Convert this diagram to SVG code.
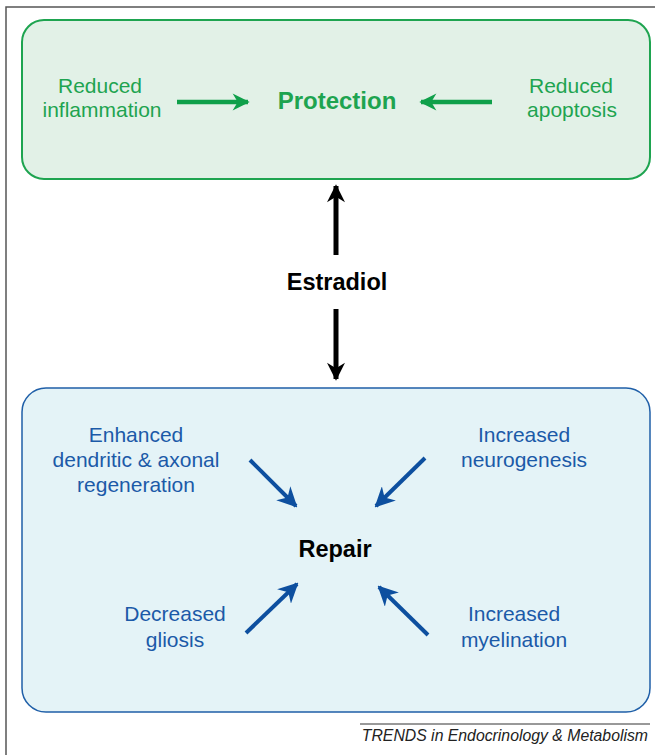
<svg xmlns="http://www.w3.org/2000/svg" width="655" height="755" viewBox="0 0 655 755">
<defs>
<style>
.t{font-family:"Liberation Sans",Arial,sans-serif;text-anchor:middle}
.g{fill:#1ea450;font-size:21px}
.b{fill:#1b5aa8;font-size:21px}
.gl{stroke:#0fa04a;stroke-width:4.5;fill:none}
.bl{stroke:#0d4f9f;stroke-width:4;fill:none}
.kl{stroke:#000;stroke-width:5;fill:none}
</style>
<marker id="ag" viewBox="0 0 10 10" refX="9" refY="5" markerWidth="5.5" markerHeight="3.8" orient="auto" markerUnits="strokeWidth"><path d="M0,0 L10,5 L0,10 L3,5 Z" fill="#0fa04a"/></marker>
<marker id="ab" viewBox="0 0 10 10" refX="9" refY="5" markerWidth="5" markerHeight="5" orient="auto" markerUnits="strokeWidth"><path d="M0,0 L10,5 L0,10 L3,5 Z" fill="#0d4f9f"/></marker>
<marker id="ak" viewBox="0 0 10 10" refX="9" refY="5" markerWidth="4.5" markerHeight="3.6" orient="auto" markerUnits="strokeWidth"><path d="M0,0 L10,5 L0,10 L3,5 Z" fill="#000"/></marker>
</defs>
<rect width="655" height="755" fill="#fff"/>
<path d="M6,755 V7 H655" stroke="#555" stroke-width="1.5" fill="none"/>
<g id="protection-box">
<rect x="22" y="20" width="628" height="159" rx="22" fill="#e2f1e7" stroke="#1ea450" stroke-width="2"/>
</g>
<g id="reduced-inflammation"><text class="t g" x="100" y="93">Reduced</text><text class="t g" x="102" y="117">inflammation</text></g>
<g id="protection"><text class="t" x="337" y="109" font-size="24" font-weight="bold" fill="#1ea450">Protection</text></g>
<g id="reduced-apoptosis"><text class="t g" x="571" y="93">Reduced</text><text class="t g" x="572" y="117">apoptosis</text></g>
<g id="estradiol"><text class="t" x="337" y="290" font-size="23.5" font-weight="bold" fill="#000">Estradiol</text></g>
<g id="repair-box">
<rect x="22" y="388" width="628" height="324" rx="24" fill="#e4f3f7" stroke="#1f5fa8" stroke-width="1.5"/>
</g>
<g id="enhanced"><text class="t b" x="136" y="442">Enhanced</text><text class="t b" x="136" y="467">dendritic &amp; axonal</text><text class="t b" x="136" y="492">regeneration</text></g>
<g id="neurogenesis"><text class="t b" x="524" y="442">Increased</text><text class="t b" x="524" y="467">neurogenesis</text></g>
<g id="repair"><text class="t" x="335" y="557" font-size="23.5" font-weight="bold" fill="#000">Repair</text></g>
<g id="gliosis"><text class="t b" x="175" y="621">Decreased</text><text class="t b" x="175" y="647">gliosis</text></g>
<g id="myelination"><text class="t b" x="514" y="621">Increased</text><text class="t b" x="514" y="647">myelination</text></g>
<g id="connectors">
<line class="gl" x1="177" y1="102" x2="248" y2="102" marker-end="url(#ag)"/>
<line class="gl" x1="492" y1="102" x2="421" y2="102" marker-end="url(#ag)"/>
<line class="kl" x1="336" y1="255" x2="336" y2="186" marker-end="url(#ak)"/>
<line class="kl" x1="336" y1="309" x2="336" y2="379" marker-end="url(#ak)"/>
<line class="bl" x1="250" y1="460" x2="296" y2="506" marker-end="url(#ab)"/>
<line class="bl" x1="425" y1="458" x2="376" y2="506" marker-end="url(#ab)"/>
<line class="bl" x1="246" y1="633" x2="297" y2="584" marker-end="url(#ab)"/>
<line class="bl" x1="428" y1="635" x2="379" y2="587" marker-end="url(#ab)"/>
</g>
<line x1="360" y1="724" x2="650" y2="724" stroke="#333" stroke-width="1"/>
<text x="648" y="741" font-family="'Liberation Sans',Arial,sans-serif" font-size="15.8" font-style="italic" text-anchor="end" fill="#222">TRENDS in Endocrinology &amp; Metabolism</text>
</svg>
